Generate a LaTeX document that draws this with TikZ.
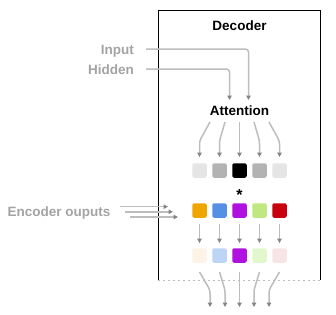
\documentclass[tikz,border=0pt]{standalone}
\usepackage{fontspec}
\setmainfont{Liberation Sans}
\usetikzlibrary{arrows.meta}
\definecolor{labelgray}{HTML}{A3A3A3}
\definecolor{linegray}{HTML}{BDBDBD}
\definecolor{tipgray}{HTML}{858585}
\definecolor{cA}{HTML}{E5E5E5}
\definecolor{cB}{HTML}{B3B3B3}
\definecolor{eA}{HTML}{F0A500}
\definecolor{eB}{HTML}{5590E6}
\definecolor{eC}{HTML}{B010E0}
\definecolor{eD}{HTML}{C0E880}
\definecolor{eE}{HTML}{C8000E}
\definecolor{fA}{HTML}{FDF3E6}
\definecolor{fB}{HTML}{BCD4F5}
\definecolor{fD}{HTML}{E3F7CC}
\definecolor{fE}{HTML}{F7E4E6}
\begin{document}
\begin{tikzpicture}[x=1pt,y=-1pt,
  txt/.style={font=\fontsize{13.5}{15}\selectfont\bfseries, inner sep=0pt},
  side/.style={txt, text=labelgray},
  cell/.style={minimum size=14.5pt, inner sep=0pt, rounded corners=2pt, draw=none},
  flow/.style={draw=linegray, line width=1.5pt, rounded corners=3pt,
    -{Triangle[length=4.5pt,width=4.5pt,color=tipgray]}}]
\useasboundingbox (0,0) rectangle (336,314);

% decoder frame, open at the bottom with a dotted edge
\draw[line width=1pt] (158,280) -- (158,10) -- (320,10) -- (320,280);
\draw[linegray, line width=0.8pt, dash pattern=on 2pt off 3pt] (158,280) -- (320,280);

% labels
\node[txt, anchor=base] (dec) at (239.5,30) {Decoder};
\node[txt, anchor=base] (att) at (239.5,115) {Attention};
\node[side, anchor=base east] (inp) at (134,54) {Input};
\node[side, anchor=base east] (hid) at (134,74) {Hidden};
\node[side, anchor=base east] (enc) at (110.5,216) {Encoder ouputs};
\node[txt, anchor=base, font=\fontsize{16}{18}\selectfont\bfseries] (star) at (239.5,200) {*};

% three rows of cells
\foreach \i/\x/\a/\b/\c in {1/199.5/cA/eA/fA, 2/219.5/cB/eB/fB, 3/239.5/black/eC/eC, 4/259.5/cB/eD/fD, 5/279.5/cA/eE/fE} {
  \node[cell, fill=\a] (w\i) at (\x,170.5) {};
  \node[cell, fill=\b] (e\i) at (\x,210.5) {};
  \node[cell, fill=\c] (o\i) at (\x,255.5) {};
}

% inputs into attention
\coordinate (inpEnd) at (248.5,100);
\coordinate (hidEnd) at (229.5,100);
\draw[flow] ([xshift=12pt]inp.east |- 0,49) -- (248.5,49) -- (inpEnd);
\draw[flow] ([xshift=12pt]hid.east |- 0,69) -- (229.5,69) -- (hidEnd);

% attention fanning out to the weights
\foreach \i/\s in {1/210, 2/225, 3/239.5, 4/254, 5/269} {
  \coordinate (a\i) at (\s,122);
}
\draw[flow] (a1) -- (199.5,141) -- ([yshift=6pt]w1.north);
\draw[flow] (a2) -- (219.5,141) -- ([yshift=6pt]w2.north);
\draw[flow] (a3) -- ([yshift=6pt]w3.north);
\draw[flow] (a4) -- (259.5,141) -- ([yshift=6pt]w4.north);
\draw[flow] (a5) -- (279.5,141) -- ([yshift=6pt]w5.north);

% encoder outputs entering the frame
\coordinate (k1) at (120,206.7); \coordinate (k2) at (125,211.8); \coordinate (k3) at (130,217);
\coordinate (m1) at (168,206.7); \coordinate (m2) at (173,211.8); \coordinate (m3) at (178,217);
\draw[flow] (k1) -- (m1);
\draw[flow] (k2) -- (m2);
\draw[flow] (k3) -- (m3);

% weighted encoder outputs
\foreach \i in {1,...,5} {
  \draw[flow] ([yshift=-6pt]e\i.south) -- ([yshift=5pt]o\i.north);
}

% outputs leaving the decoder
\foreach \i/\t in {1/210, 2/225, 3/239.5, 4/254, 5/269} {
  \coordinate (z\i) at (\t,307);
}
\draw[flow] ([yshift=-9pt]o1.south) -- (210,290) -- (z1);
\draw[flow] ([yshift=-9pt]o2.south) -- (225,290) -- (z2);
\draw[flow] ([yshift=-9pt]o3.south) -- (z3);
\draw[flow] ([yshift=-9pt]o4.south) -- (254,290) -- (z4);
\draw[flow] ([yshift=-9pt]o5.south) -- (269,290) -- (z5);
\end{tikzpicture}
\end{document}
